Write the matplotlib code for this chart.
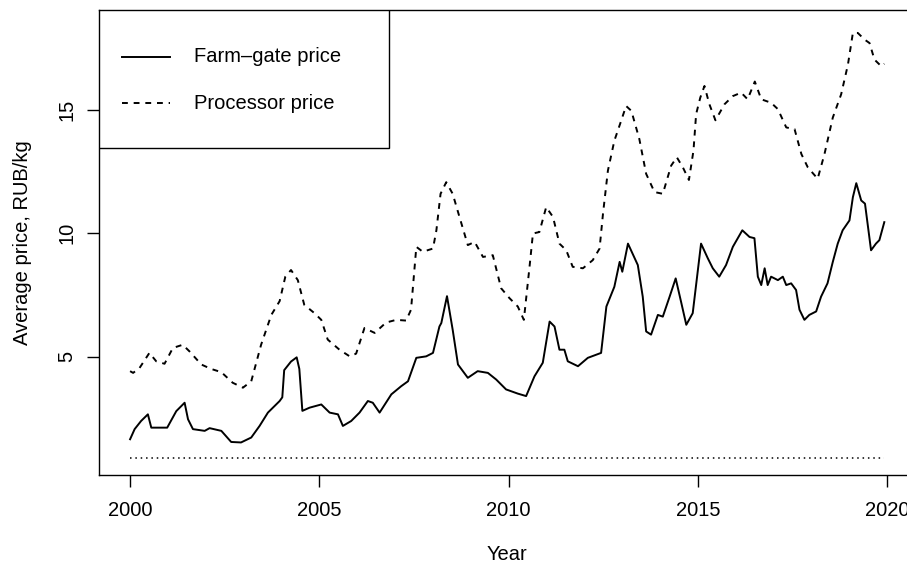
import numpy as np
import matplotlib
matplotlib.use('Agg')
import matplotlib.pyplot as plt
from matplotlib.patches import Rectangle

plt.rcParams['font.family'] = ['Liberation Sans', 'DejaVu Sans']

# farm-gate price (year, RUB/kg)
farm_year = [2000.00, 2000.12, 2000.29, 2000.47, 2000.56, 2000.73, 2000.98, 2001.22, 2001.44, 2001.53,
             2001.66, 2001.97, 2002.10, 2002.41, 2002.67, 2002.93, 2003.20, 2003.42, 2003.64, 2003.95,
             2004.02, 2004.07, 2004.25, 2004.40, 2004.47, 2004.55, 2004.74, 2005.05, 2005.27, 2005.49,
             2005.62, 2005.84, 2006.06, 2006.28, 2006.41, 2006.59, 2006.90, 2007.16, 2007.34, 2007.56,
             2007.82, 2008.00, 2008.17, 2008.22, 2008.37, 2008.52, 2008.66, 2008.92, 2009.18, 2009.45,
             2009.67, 2009.93, 2010.24, 2010.46, 2010.68, 2010.90, 2011.08, 2011.21, 2011.34, 2011.47,
             2011.56, 2011.83, 2012.09, 2012.44, 2012.58, 2012.79, 2012.93, 2013.00, 2013.15, 2013.41,
             2013.54, 2013.63, 2013.76, 2013.94, 2014.07, 2014.25, 2014.41, 2014.56, 2014.69, 2014.86,
             2015.08, 2015.26, 2015.39, 2015.56, 2015.74, 2015.92, 2016.17, 2016.36, 2016.49, 2016.58,
             2016.67, 2016.76, 2016.84, 2016.93, 2017.11, 2017.24, 2017.33, 2017.46, 2017.59, 2017.68,
             2017.81, 2017.94, 2018.12, 2018.25, 2018.42, 2018.56, 2018.69, 2018.82, 2019.00, 2019.09,
             2019.18, 2019.31, 2019.41, 2019.57, 2019.70, 2019.79, 2019.92]
farm_price = [1.65, 2.06, 2.39, 2.66, 2.12, 2.12, 2.12, 2.79, 3.13, 2.46,
              2.06, 1.99, 2.10, 1.99, 1.54, 1.52, 1.72, 2.19, 2.73, 3.20,
              3.35, 4.45, 4.80, 4.97, 4.50, 2.80, 2.93, 3.06, 2.73, 2.66,
              2.19, 2.39, 2.73, 3.20, 3.13, 2.73, 3.47, 3.80, 4.00, 4.95,
              5.01, 5.15, 6.22, 6.36, 7.45, 6.09, 4.68, 4.14, 4.41, 4.34,
              4.07, 3.67, 3.50, 3.40, 4.20, 4.75, 6.42, 6.22, 5.28, 5.28,
              4.81, 4.61, 4.95, 5.15, 7.03, 7.83, 8.84, 8.44, 9.58, 8.71,
              7.43, 6.02, 5.89, 6.69, 6.62, 7.43, 8.17, 7.17, 6.29, 6.76,
              9.58, 8.98, 8.58, 8.24, 8.71, 9.45, 10.12, 9.85, 9.80, 8.24,
              7.90, 8.58, 7.90, 8.24, 8.10, 8.24, 7.90, 7.97, 7.70, 6.90,
              6.49, 6.69, 6.83, 7.43, 7.97, 8.84, 9.58, 10.12, 10.52, 11.46,
              12.03, 11.33, 11.20, 9.31, 9.58, 9.72, 10.45]

# processor price (year, RUB/kg)
proc_year = [2000.00, 2000.08, 2000.25, 2000.51, 2000.69, 2000.91, 2001.13, 2001.39, 2001.57, 2001.88,
             2002.14, 2002.41, 2002.71, 2002.98, 2003.20, 2003.46, 2003.73, 2003.95, 2004.10, 2004.25,
             2004.43, 2004.60, 2004.87, 2005.05, 2005.22, 2005.53, 2005.80, 2005.97, 2006.19, 2006.46,
             2006.76, 2007.03, 2007.29, 2007.42, 2007.56, 2007.73, 2008.00, 2008.09, 2008.20, 2008.35,
             2008.52, 2008.70, 2008.92, 2009.10, 2009.32, 2009.58, 2009.80, 2010.02, 2010.24, 2010.40,
             2010.55, 2010.64, 2010.81, 2010.99, 2011.17, 2011.34, 2011.52, 2011.69, 2011.96, 2012.22,
             2012.40, 2012.49, 2012.62, 2012.79, 2012.97, 2013.10, 2013.24, 2013.45, 2013.63, 2013.85,
             2014.07, 2014.29, 2014.44, 2014.60, 2014.76, 2014.88, 2014.95, 2015.06, 2015.17, 2015.30,
             2015.46, 2015.70, 2015.92, 2016.14, 2016.31, 2016.50, 2016.67, 2016.93, 2017.11, 2017.33,
             2017.55, 2017.73, 2017.90, 2018.16, 2018.34, 2018.56, 2018.78, 2018.96, 2019.09, 2019.22,
             2019.40, 2019.53, 2019.66, 2019.84, 2019.92]
proc_price = [4.41, 4.34, 4.54, 5.15, 4.81, 4.71, 5.35, 5.48, 5.21, 4.68,
              4.50, 4.37, 3.94, 3.74, 4.00, 5.48, 6.69, 7.25, 8.24, 8.51,
              8.10, 7.10, 6.76, 6.49, 5.69, 5.28, 5.01, 5.12, 6.16, 5.96,
              6.38, 6.49, 6.46, 6.90, 9.45, 9.25, 9.38, 10.12, 11.60, 12.07,
              11.60, 10.66, 9.52, 9.65, 9.04, 9.11, 7.77, 7.37, 7.03, 6.49,
              8.64, 9.99, 10.05, 11.06, 10.66, 9.58, 9.31, 8.64, 8.58, 8.91,
              9.38, 10.79, 12.54, 13.75, 14.56, 15.16, 14.96, 13.82, 12.41, 11.67,
              11.60, 12.74, 13.08, 12.67, 12.16, 13.35, 14.83, 15.50, 15.97, 15.23,
              14.58, 15.23, 15.56, 15.70, 15.43, 16.15, 15.43, 15.29, 15.03, 14.29,
              14.22, 13.21, 12.67, 12.21, 13.21, 14.69, 15.63, 16.84, 18.12, 18.12,
              17.85, 17.71, 17.04, 16.77, 16.87]

# dotted reference line
ref_year = [2000.0, 2019.92]
ref_price = [0.9, 0.9]

x_ticks = [2000, 2005, 2010, 2015, 2020]
y_ticks = [5, 10, 15]

fig = plt.figure(figsize=(9.07, 5.68), dpi=100)
ax = fig.add_axes([0.1092, 0.1637, 0.900, 0.8187])

ax.plot(farm_year, farm_price, color='black', lw=1.4)
ax.plot(proc_year, proc_price, color='black', lw=1.4, linestyle=(0, (3, 3)))
ax.plot(ref_year, ref_price, color='black', lw=1.1, linestyle=(0, (1, 2.5)))

ax.set_xlim(1999.18, 2020.74)
ax.set_ylim(0.2, 19.05)
ax.set_xticks(x_ticks)
ax.set_yticks(y_ticks)
ax.tick_params(length=8.4, width=1.0, labelsize=14.5, pad=8)
ax.tick_params(axis='x', pad=10.5)
ax.tick_params(axis='y', labelrotation=90)
plt.setp(ax.get_yticklabels(), va='center')
for s in ax.spines.values():
    s.set_linewidth(1.0)

ax.set_xlabel('Year', fontsize=14.5, labelpad=18)
ax.set_ylabel('Average price, RUB/kg', fontsize=14.5, labelpad=18)

# legend box, drawn like R's legend()
ax.add_patch(Rectangle((0, 0.703), 0.355, 0.297, transform=ax.transAxes,
                       facecolor='white', edgecolor='black', lw=1.0, zorder=5))
ax.plot([0.0282, 0.0870], [0.899, 0.899], transform=ax.transAxes, color='black', lw=1.4, zorder=6)
ax.plot([0.0282, 0.0870], [0.800, 0.800], transform=ax.transAxes, color='black', lw=1.4,
        linestyle=(0, (3, 3)), zorder=6)
ax.text(0.1164, 0.899, 'Farm\u2013gate price', transform=ax.transAxes, va='center', fontsize=14.5, zorder=6)
ax.text(0.1164, 0.800, 'Processor price', transform=ax.transAxes, va='center', fontsize=14.5, zorder=6)

plt.savefig('out.png', dpi=100)
